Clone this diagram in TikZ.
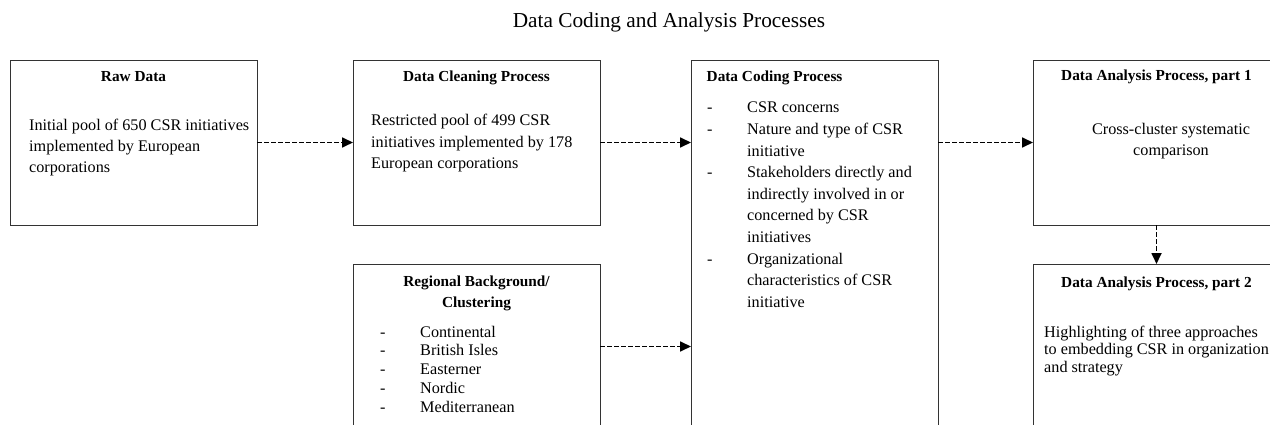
\documentclass[tikz,border=0pt]{standalone}
\usepackage{fontspec}
\setmainfont{Liberation Serif}
\usetikzlibrary{arrows.meta}

\newcommand{\bodyfont}[1]{\fontsize{16.2}{#1}\selectfont}
\newcommand{\headfont}{\fontsize{15.3}{21}\selectfont\bfseries}

\begin{document}
\begin{tikzpicture}[x=1pt,y=-1pt,
  box/.style={draw=black!80, line width=0.9pt, rectangle, inner sep=0pt,
              outer sep=0pt, anchor=north west, minimum width=247pt},
  head/.style={inner sep=0pt, font=\headfont},
  body/.style={inner sep=0pt},
  flow/.style={draw=black, line width=1.7pt, dash pattern=on 4.5pt off 2.5pt,
               -{Triangle[length=11pt,width=10pt]}}]

\useasboundingbox (0,0) rectangle (1270,425);
\clip (0,0) rectangle (1270,425);
\fill[white] (0,0) rectangle (1270,425);

% title
\node[inner sep=0pt, anchor=base, font=\fontsize{21.3}{24}\selectfont]
  (title) at (669,28) {Data Coding and Analysis Processes};

% boxes
\node[box, minimum height=165pt] (raw)    at (10,60)   {};
\node[box, minimum height=165pt] (clean)  at (353,60)  {};
\node[box, minimum height=190pt] (region) at (353,264) {};
\node[box, minimum height=390pt] (coding) at (691,60)  {};
\node[box, minimum height=165pt] (an1)    at (1033,60) {};
\node[box, minimum height=190pt] (an2)    at (1033,264){};

% raw data
\node[head, anchor=base] (rawh) at (133.5,82) {Raw Data};
\node[body, anchor=base west] (rawt) at (29,131) {\bodyfont{21}%
  \begin{tabular}[t]{@{}l@{}}
  Initial pool of 650 CSR initiatives\\
  implemented by European\\
  corporations
  \end{tabular}};

% cleaning
\node[head, anchor=base] (cleanh) at (476.5,82) {Data Cleaning Process};
\node[body, anchor=base west] (cleant) at (371,126) {\bodyfont{21.5}%
  \begin{tabular}[t]{@{}l@{}}
  Restricted pool of 499 CSR\\
  initiatives implemented by 178\\
  European corporations
  \end{tabular}};

% regional background
\node[head, anchor=base, align=center] (regionh) at (476.5,286)
  {\begin{tabular}[t]{@{}c@{}}Regional Background/\\Clustering\end{tabular}};
\node[body, anchor=base west] (regiont) at (380,337) {\bodyfont{18.8}%
  \begin{tabular}[t]{@{}p{40pt}@{}l@{}}
  - & Continental\\
  - & British Isles\\
  - & Easterner\\
  - & Nordic\\
  - & Mediterranean
  \end{tabular}};

% coding
\node[head, anchor=base west] (codingh) at (706.5,82) {Data Coding Process};
\node[body, anchor=base west] (codingt) at (707,113) {\bodyfont{21.6}%
  \begin{tabular}[t]{@{}p{40pt}@{}l@{}}
  - & CSR concerns\\
  - & Nature and type of CSR\\
    & initiative\\
  - & Stakeholders directly and\\
    & indirectly involved in or\\
    & concerned by CSR\\
    & initiatives\\
  - & Organizational\\
    & characteristics of CSR\\
    & initiative
  \end{tabular}};

% analysis, part 1
\node[head, anchor=base] (an1h) at (1156.5,81) {Data Analysis Process, part 1};
\node[body, anchor=base] (an1t) at (1171,135) {\bodyfont{20.5}%
  \begin{tabular}[t]{@{}c@{}}
  Cross-cluster systematic\\
  comparison
  \end{tabular}};

% analysis, part 2
\node[head, anchor=base] (an2h) at (1156.5,287) {Data Analysis Process, part 2};
\node[body, anchor=base west] (an2t) at (1044,337) {\bodyfont{17.7}%
  \begin{tabular}[t]{@{}l@{}}
  Highlighting of three approaches\\
  to embedding CSR in organization\\
  and strategy
  \end{tabular}};

% connectors
\draw[flow] (raw.east) -- (clean.west);
\draw[flow] (clean.east) -- (clean.east -| coding.west);
\draw[flow] ([yshift=-82.5pt]region.north east) -- ([yshift=-82.5pt]region.north east -| coding.west);
\draw[flow] (an1.west -| coding.east) -- (an1.west);
\draw[flow] (an1.south) -- (an2.north);
\end{tikzpicture}
\end{document}
